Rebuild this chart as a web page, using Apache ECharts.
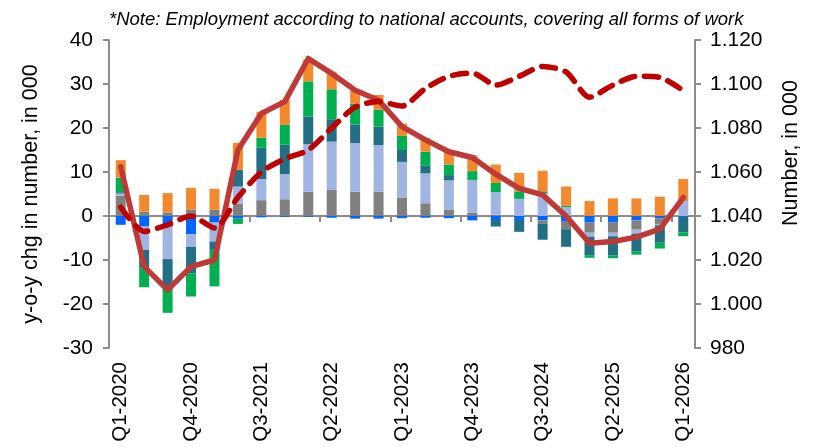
<!DOCTYPE html>
<html>
<head>
<meta charset="utf-8">
<script src="https://cdn.jsdelivr.net/npm/echarts@6/dist/echarts.min.js"></script>
<style>
    html, body { margin: 0; padding: 0; background: #fff; }
    #chart { width: 822px; height: 447px; }
</style>
</head>
<body>
<div id="chart"></div>
<script>
// quarters, Q1-2020 .. Q1-2026
var quarters = [];
var years = [2020, 2021, 2022, 2023, 2024, 2025, 2026];
for (var y = 0; y < years.length; y++) {
    for (var q = 1; q <= 4; q++) {
        if (years[y] === 2026 && q > 1) break;
        quarters.push('Q' + q + '-' + years[y]);
    }
}

// y-o-y contributions, in 000
var blueVals = [-2.0, -2.4, -2.4, -4.1, -1.5, -0.6, -0.3, -0.2, -0.2, -0.4, -0.6, -0.6, -0.5, -0.4, -0.5, -1.0, -0.9, -0.9, -1.0, -1.3, -1.5, -1.4, -1.0, -0.5, -0.2];
var grayVals = [4.6, 1.0, 0.8, 1.5, 1.4, 2.8, 3.6, 3.8, 5.5, 5.9, 5.5, 5.5, 4.2, 2.9, 1.5, 0.8, 0.3, 0, -0.8, -1.7, -2.3, -2.4, -2.1, -1.3, 0];
var lightBlueVals = [0.5, -5.3, -7.4, -2.9, -4.3, 3.9, 4.8, 5.7, 10.8, 11.0, 11.1, 10.6, 8.1, 6.8, 6.6, 7.4, 5.1, 3.9, 5.2, 2.0, -0.9, -0.8, -0.9, -0.3, 3.4];
var tealVals = [0.3, -4.2, -7.0, -6.0, -1.9, 3.8, 7.1, 6.7, 6.3, 5.1, 4.2, 4.2, 2.7, 1.7, 1.2, 0, -1.5, -2.7, -3.6, -4.0, -4.2, -4.4, -4.0, -4.0, -3.5];
var greenVals = [3.3, -4.3, -5.2, -5.3, -8.3, -1.2, 2.3, 4.5, 8.0, 6.8, 4.7, 3.9, 3.2, 3.2, 2.4, 2.0, 2.1, 1.7, 0.4, 0.3, -0.6, -0.6, -0.8, -1.3, -0.9];
var orangeVals = [4.0, 3.8, 4.4, 4.9, 4.8, 6.1, 5.9, 5.7, 4.9, 4.0, 3.0, 3.3, 2.8, 3.1, 3.3, 3.6, 4.2, 4.2, 4.7, 4.4, 3.4, 4.0, 4.0, 4.4, 5.0];

// total y-o-y change (left axis) and employment level (right axis)
var totalChg = [11.2, -11.5, -16.8, -11.5, -10.0, 15.0, 23.3, 26.0, 35.8, 32.4, 28.6, 26.3, 20.3, 17.3, 14.6, 13.3, 9.5, 6.3, 4.8, 0.0, -6.2, -5.8, -4.8, -3.0, 4.2];
var levelVals = [1044, 1033, 1036, 1040, 1034.5, 1048.5, 1060, 1066, 1070, 1080, 1089.5, 1092, 1090, 1098, 1103.5, 1105, 1099.5, 1103.5, 1108, 1105.5, 1094, 1099.5, 1103.5, 1103, 1097];

var FONT = '"Liberation Sans", Arial, sans-serif';
var AXIS_GRAY = '#8c8c8c';

var myChart = echarts.init(document.getElementById('chart'));

function barSeries(data, color) {
    return {
        type: 'bar',
        stack: 'chg',
        barWidth: 10,
        data: data,
        itemStyle: { color: color },
        animation: false
    };
}

function fmtLevel(v) {
    if (v >= 1000) {
        var r = String(v % 1000);
        while (r.length < 3) r = '0' + r;
        return Math.floor(v / 1000) + '.' + r;
    }
    return String(v);
}

var option = {
    animation: false,
    title: {
        text: '*Note: Employment according to national accounts, covering all forms of work',
        left: 104,
        top: 5,
        textStyle: { fontFamily: FONT, fontSize: 18.5, fontStyle: 'italic', fontWeight: 'normal', color: '#000' }
    },
    grid: { left: 109, right: 127, top: 40, bottom: 99 },
    xAxis: [{
        type: 'category',
        data: quarters,
        position: 'bottom',
        axisLine: { show: false, onZero: false },
        axisTick: { show: false },
        axisLabel: { interval: 2, rotate: 90, fontFamily: FONT, fontSize: 20.5, color: '#000', margin: 14 }
    }, {
        type: 'category',
        data: quarters,
        position: 'bottom',
        axisLine: { show: true, onZero: true, onZeroAxisIndex: 0, lineStyle: { color: AXIS_GRAY, width: 2 } },
        axisTick: { show: true, interval: 2, length: 6, lineStyle: { color: AXIS_GRAY, width: 2 } },
        axisLabel: { show: false }
    }],
    yAxis: [{
        type: 'value',
        min: -30,
        max: 40,
        interval: 10,
        name: 'y-o-y chg in number, in 000',
        nameLocation: 'middle',
        nameGap: 67,
        nameTextStyle: { fontFamily: FONT, fontSize: 21.5, color: '#000' },
        axisLine: { show: true, lineStyle: { color: AXIS_GRAY, width: 2 } },
        axisTick: { show: true, length: 6, lineStyle: { color: AXIS_GRAY, width: 2 } },
        axisLabel: { fontFamily: FONT, fontSize: 21, color: '#000', margin: 16 },
        splitLine: { show: false }
    }, {
        type: 'value',
        min: 980,
        max: 1120,
        interval: 20,
        position: 'right',
        name: 'Number, in 000',
        nameLocation: 'middle',
        nameGap: 85,
        nameTextStyle: { fontFamily: FONT, fontSize: 21.5, color: '#000', padding: [0, 0, 0, 82] },
        axisLine: { show: true, lineStyle: { color: AXIS_GRAY, width: 2 } },
        axisTick: { show: true, length: 6, lineStyle: { color: AXIS_GRAY, width: 2 } },
        axisLabel: { fontFamily: FONT, fontSize: 21, color: '#000', margin: 15, formatter: fmtLevel },
        splitLine: { show: false }
    }],
    series: [
        barSeries(blueVals, '#0066ff'),
        barSeries(grayVals, '#808080'),
        barSeries(lightBlueVals, '#a0b5e1'),
        barSeries(tealVals, '#236f86'),
        barSeries(greenVals, '#00b050'),
        barSeries(orangeVals, '#f2892e'),
        {
            type: 'line',
            data: totalChg,
            symbol: 'none',
            lineStyle: { color: '#bf3a36', width: 5.5, cap: 'round', join: 'round' },
            z: 3
        },
        {
            type: 'line',
            yAxisIndex: 1,
            data: levelVals,
            symbol: 'none',
            smooth: 0.25,
            lineStyle: { color: '#c00000', width: 5.5, type: [14, 10], cap: 'round' },
            z: 4
        }
    ]
};

myChart.setOption(option);
</script>
</body>
</html>
